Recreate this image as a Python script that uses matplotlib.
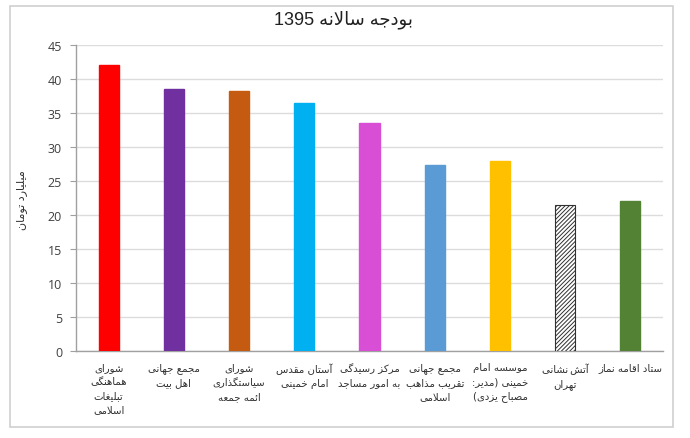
import matplotlib
matplotlib.use('Agg')
import matplotlib.pyplot as plt
from matplotlib.patches import Rectangle

# data
categories = [
    "شورای\nهماهنگی\nتبلیغات\nاسلامی",
    "مجمع جهانی\nاهل بیت",
    "شورای\nسیاستگذاری\nائمه جمعه",
    "آستان مقدس\nامام خمینی",
    "مرکز رسیدگی\nبه امور مساجد",
    "مجمع جهانی\nتقریب مذاهب\nاسلامی",
    "موسسه امام\nخمینی (مدیر:\nمصباح یزدی)",
    "آتش\u200cنشانی\nتهران",
    "ستاد اقامه نماز",
]
budget = [42.0, 38.5, 38.2, 36.5, 33.6, 27.4, 27.9, 21.5, 22.0]
colors = ['#FF0000', '#7030A0', '#C55A11', '#00B0F0', '#D84FD6',
          '#5B9BD5', '#FFC000', 'white', '#548235']
title = "بودجه سالانه 1395"
ylabel = "میلیارد تومان"
yticks = [0, 5, 10, 15, 20, 25, 30, 35, 40, 45]

# minimal arabic/persian shaping (isolated, final, initial, medial)
FORMS = {
    'ا': (0xFE8D, 0xFE8E, None, None), 'آ': (0xFE81, 0xFE82, None, None),
    'ب': (0xFE8F, 0xFE90, 0xFE91, 0xFE92), 'ت': (0xFE95, 0xFE96, 0xFE97, 0xFE98),
    'ج': (0xFE9D, 0xFE9E, 0xFE9F, 0xFEA0), 'ح': (0xFEA1, 0xFEA2, 0xFEA3, 0xFEA4),
    'خ': (0xFEA5, 0xFEA6, 0xFEA7, 0xFEA8), 'د': (0xFEA9, 0xFEAA, None, None),
    'ذ': (0xFEAB, 0xFEAC, None, None), 'ر': (0xFEAD, 0xFEAE, None, None),
    'ز': (0xFEAF, 0xFEB0, None, None), 'س': (0xFEB1, 0xFEB2, 0xFEB3, 0xFEB4),
    'ش': (0xFEB5, 0xFEB6, 0xFEB7, 0xFEB8), 'ص': (0xFEB9, 0xFEBA, 0xFEBB, 0xFEBC),
    'ع': (0xFEC9, 0xFECA, 0xFECB, 0xFECC), 'غ': (0xFECD, 0xFECE, 0xFECF, 0xFED0),
    'ق': (0xFED5, 0xFED6, 0xFED7, 0xFED8), 'ل': (0xFEDD, 0xFEDE, 0xFEDF, 0xFEE0),
    'م': (0xFEE1, 0xFEE2, 0xFEE3, 0xFEE4), 'ن': (0xFEE5, 0xFEE6, 0xFEE7, 0xFEE8),
    'ه': (0xFEE9, 0xFEEA, 0xFEEB, 0xFEEC), 'و': (0xFEED, 0xFEEE, None, None),
    'ئ': (0xFE89, 0xFE8A, 0xFE8B, 0xFE8C), 'ی': (0xFBFC, 0xFBFD, 0xFBFE, 0xFBFF),
    'ک': (0xFB8E, 0xFB8F, 0xFB90, 0xFB91), 'گ': (0xFB92, 0xFB93, 0xFB94, 0xFB95),
}
LAMALEF = {'ا': (0xFEFB, 0xFEFC), 'آ': (0xFEF5, 0xFEF6)}
MIRROR = {'(': ')', ')': '('}

def dual(c):
    return c in FORMS and FORMS[c][2] is not None

def shape_line(s):
    out = []
    i = 0
    while i < len(s):
        c = s[i]
        if c not in FORMS:
            if c == '\u200c':
                out.append('\u2009')   # keep a small gap where the zwnj was
            else:
                out.append(c)
            i += 1
            continue
        prev = i > 0 and dual(s[i-1])
        if c == 'ل' and i + 1 < len(s) and s[i+1] in LAMALEF:
            out.append(chr(LAMALEF[s[i+1]][1 if prev else 0]))
            i += 2
            continue
        nxt = dual(c) and i + 1 < len(s) and s[i+1] in FORMS
        f = FORMS[c]
        if prev and nxt:
            g = f[3]
        elif prev:
            g = f[1]
        elif nxt:
            g = f[2]
        else:
            g = f[0]
        out.append(chr(g))
        i += 1
    # visual order: reverse, keep digit runs left-to-right
    out = [MIRROR.get(c, c) for c in out[::-1]]
    res, run = [], []
    for c in out:
        if c.isdigit():
            run.append(c)
        else:
            res.extend(run[::-1]); run = []
            res.append(c)
    res.extend(run[::-1])
    return ''.join(res)

def rtl(s):
    return '\n'.join(shape_line(l) for l in s.split('\n'))

fig = plt.figure(figsize=(6.9, 4.39), dpi=100)
fig.patch.set_facecolor('white')
fig.patches.append(Rectangle((10/690, 1-428/439), 663/690, 421/439,
                             transform=fig.transFigure, fill=False,
                             edgecolor='#D0D0D0', linewidth=1.2))

plt.rcParams['hatch.linewidth'] = 0.7
ax = fig.add_axes([76/690, 1-352/439, 587/690, 306/439])
x = list(range(len(categories)))
bars = ax.bar(x, budget, width=0.31, color=colors, zorder=3)
for b, c in zip(bars, colors):
    if c == 'white':
        b.set_hatch('////////')
        b.set_edgecolor('#303030')
        b.set_linewidth(0.8)
    else:
        b.set_edgecolor(c)

ax.set_xlim(-0.5, len(categories) - 0.5)
ax.set_ylim(0, 45)
ax.set_yticks(yticks)
ax.set_yticklabels([str(v) for v in yticks], fontsize=9, color='#404040',
                   family=['Open Sans', 'DejaVu Sans'])
ax.set_xticks(x)
ax.set_xticklabels([rtl(c) for c in categories], fontsize=7.3, color='#303030',
                   family='DejaVu Sans', va='top', linespacing=1.5)
ax.tick_params(axis='x', length=0, pad=8)
ax.tick_params(axis='y', length=4, color='#A0A0A0', pad=6)
ax.grid(axis='y', color='#DCDCDC', linewidth=1, zorder=0)
for s in ['top', 'right']:
    ax.spines[s].set_visible(False)
for s in ['left', 'bottom']:
    ax.spines[s].set_color('#A0A0A0')
    ax.spines[s].set_linewidth(1)

fig.text(22/690, 1-200/439, rtl(ylabel), rotation=90, ha='center', va='center',
         fontsize=8, family='DejaVu Sans', color='#303030')
fig.text(343/690, 1-20/439, rtl(title), ha='center', va='center', fontsize=13,
         family=['Liberation Sans', 'DejaVu Sans'], color='#202020')

fig.savefig('out.png', dpi=100, facecolor='white')
